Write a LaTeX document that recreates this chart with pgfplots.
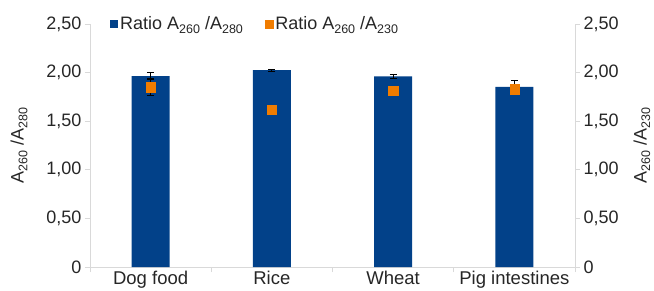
\documentclass[border=0pt]{standalone}
\usepackage{fontspec}
\setmainfont{Liberation Sans}
\usepackage{pgfplots}
\pgfplotsset{compat=1.18}
\definecolor{barblue}{RGB}{2,65,137}
\definecolor{orng}{RGB}{240,124,0}
\definecolor{axgray}{RGB}{217,217,217}
\definecolor{txt}{RGB}{38,38,38}
\newcommand\sub[1]{\raisebox{-0.38ex}{\fontsize{12.5}{13}\selectfont #1}}
\begin{document}
\begin{tikzpicture}
\path[use as bounding box] (-90pt,-23pt) rectangle (564pt,267pt);
\pgfplotsset{
  common/.style={
    scale only axis, width=485pt, height=243pt,
    xmin=-0.5, xmax=3.5, ymin=0, ymax=2.5,
    font=\fontsize{18}{21}\selectfont, text=txt,
    axis line style={draw=axgray, line width=0.8pt, -},
    tick style={draw=axgray, line width=0.8pt},
    tick align=outside, major tick length=5pt, minor tick length=5pt,
    ytick={0,0.5,1,1.5,2,2.5},
    yticklabels={0,{0,50},{1,00},{1,50},{2,00},{2,50}},
  }
}
\begin{axis}[common,
  axis y line*=left, axis x line*=bottom,
  xtick={0,1,2,3}, xticklabels={Dog food,Rice,Wheat,Pig intestines},
  major x tick style={draw=none},
  minor xtick={-0.5,0.5,1.5,2.5,3.5},
  xticklabel style={inner sep=0pt, yshift=1pt, font=\fontsize{18.5}{21}\selectfont},
  ylabel={A\sub{260} /A\sub{280}},
  every axis y label/.style={at={(axis description cs:-0.1464,0.5)}, rotate=90, anchor=center},
  ybar, bar width=38pt,
  legend columns=2,
  legend style={draw=none, fill=none, at={(0.035,1.0)}, anchor=west, font=\fontsize{18}{21}\selectfont,
    /tikz/every even column/.append style={column sep=20pt}},
  legend cell align=left,
]
\addplot[fill=barblue, draw=none,
  legend image code/.code={\fill[barblue] (0pt,-4pt) rectangle (8pt,4pt);},
  error bars/.cd, y dir=both, y explicit,
  error bar style={black, line width=0.9pt},
  error mark options={rotate=90, mark size=3.5pt, black, line width=0.9pt}]
  coordinates {(0,1.965) +- (0,0.035) (1,2.025) +- (0,0.01) (2,1.96) +- (0,0.02) (3,1.852) +- (0,0.07)};
\addlegendentry{Ratio A\sub{260} /A\sub{280}}
\addlegendimage{legend image code/.code={\fill[orng] (0pt,-4pt) rectangle (8pt,4pt);}}
\addlegendentry{Ratio A\sub{260} /A\sub{230}}
\end{axis}
\begin{axis}[common,
  axis y line*=right, axis x line=none,
  ylabel={A\sub{260} /A\sub{230}},
  every axis y label/.style={at={(axis description cs:1.138,0.5)}, rotate=90, anchor=center},
]
\addplot[only marks, mark=square*, mark size=4.6pt, color=orng,
  error bars/.cd, y dir=both, y explicit,
  error bar style={black, line width=0.9pt},
  error mark options={rotate=90, mark size=3.5pt, black, line width=0.9pt}]
  coordinates {(0,1.85) +- (0,0.09) (1,1.62) +- (0,0.04) (2,1.81) +- (0,0.01) (3,1.83) +- (0,0.01)};
\end{axis}
\end{tikzpicture}
\end{document}
